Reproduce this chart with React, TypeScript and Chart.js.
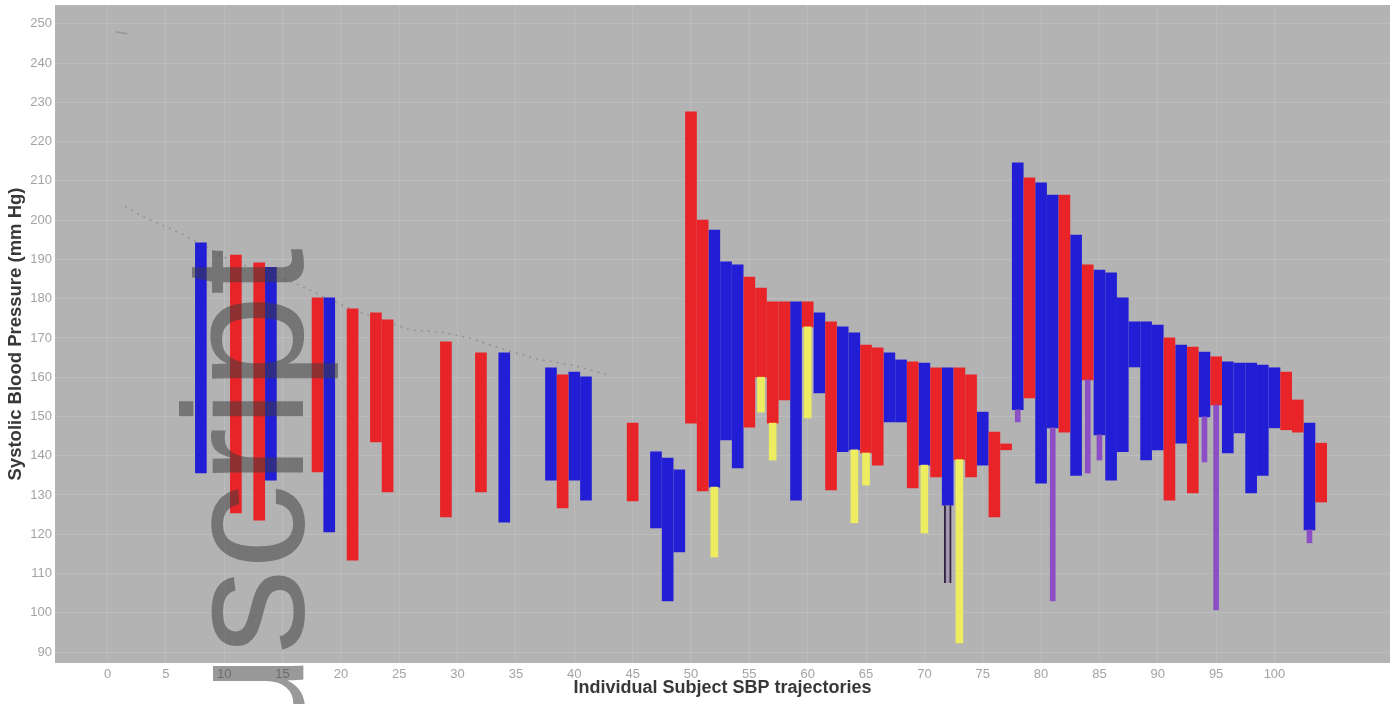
import React, { useEffect, useRef } from "react";
import { Chart, registerables } from "chart.js";

Chart.register(...registerables);

// ---- Data ----
const xTicks = [0, 5, 10, 15, 20, 25, 30, 35, 40, 45, 50, 55, 60, 65, 70, 75, 80, 85, 90, 95, 100];
const yTicks = [90, 100, 110, 120, 130, 140, 150, 160, 170, 180, 190, 200, 210, 220, 230, 240, 250];

const redSubjects = [11, 13, 18, 21, 23, 24, 29, 32, 39, 45, 50, 51, 55, 56, 57, 58, 60, 62, 65, 66, 69, 71, 73, 74, 76, 77, 79, 82, 84, 91, 93, 95, 101, 102, 104];
const redLow = [125.4, 123.6, 135.9, 113.4, 143.5, 130.8, 124.4, 130.8, 126.7, 128.5, 148.3, 131.0, 147.3, 160.0, 148.3, 154.2, 172.8, 131.3, 140.7, 137.6, 131.8, 134.6, 139.0, 134.6, 124.4, 141.5, 154.7, 146.0, 159.3, 128.7, 130.5, 152.9, 146.6, 146.0, 128.2];
const redHigh = [191.1, 189.1, 180.2, 177.4, 176.4, 174.6, 169.0, 166.2, 160.6, 148.3, 227.6, 200.0, 185.5, 182.7, 179.2, 179.2, 179.2, 174.1, 168.2, 167.5, 163.9, 162.4, 162.4, 160.6, 146.0, 143.0, 210.8, 206.4, 188.6, 170.0, 167.7, 165.2, 161.3, 154.2, 143.2];

const blueSubjects = [8, 14, 19, 34, 38, 40, 41, 47, 48, 49, 52, 53, 54, 59, 61, 63, 64, 67, 68, 70, 72, 75, 78, 80, 81, 83, 85, 86, 87, 88, 89, 90, 92, 94, 96, 97, 98, 99, 100, 103];
const blueLow = [135.6, 133.8, 120.6, 123.1, 133.8, 133.8, 128.7, 121.6, 103.0, 115.5, 132.0, 144.0, 136.9, 128.7, 156.0, 141.0, 141.5, 148.6, 148.6, 137.6, 127.4, 137.6, 151.7, 133.0, 147.1, 135.0, 145.3, 133.8, 141.0, 162.6, 138.9, 141.5, 143.2, 149.9, 140.7, 145.8, 130.5, 135.0, 147.1, 121.1];
const blueHigh = [194.2, 188.0, 180.2, 166.2, 162.4, 161.3, 160.1, 141.0, 139.4, 136.4, 197.5, 189.4, 188.6, 179.2, 176.4, 172.8, 171.3, 166.2, 164.4, 163.6, 162.4, 151.1, 214.6, 209.5, 206.4, 196.2, 187.3, 186.6, 180.2, 174.1, 174.1, 173.3, 168.2, 166.4, 163.9, 163.6, 163.6, 163.1, 162.4, 148.3];

const yellowSubjects = [52, 56, 57, 60, 64, 65, 70, 73];
const yellowLow = [114.2, 151.1, 138.9, 149.6, 122.9, 132.5, 120.3, 92.3];
const yellowHigh = [132.0, 160.0, 148.3, 172.8, 141.5, 140.7, 137.6, 139.0];

const purpleSubjects = [78, 81, 84, 85, 94, 95, 103];
const purpleLow = [148.6, 103.0, 135.6, 138.9, 138.4, 100.7, 117.8];
const purpleHigh = [151.7, 147.1, 159.3, 145.3, 149.9, 152.9, 121.1];

const darkSubjects = [72];
const darkLow = [107.6];
const darkHigh = [127.4];

const trendX = [1.5, 3.0, 4.5, 6.0, 8.0, 10.0, 13.0, 16.0, 20.0, 23.0, 26.0, 28.5, 31.0, 34.0, 37.0, 40.0, 43.0];
const trendY = [203.5, 201.0, 199.0, 197.0, 194.0, 190.5, 187.0, 184.0, 178.5, 175.0, 172.0, 171.5, 170.0, 167.0, 164.5, 163.0, 160.5];
const topMarkX = [0.7, 1.7];
const topMarkY = [248.0, 247.5];

const X_MIN = -4.5;
const X_MAX = 109.9;
const Y_MIN = 87.2;
const Y_MAX = 254.8;

function toRange(subjects: number[], low: number[], high: number[]) {
  return subjects.map((s, i) => ({ x: s, y: [low[i], high[i]] }));
}
function toPoints(xs: number[], ys: number[]) {
  return xs.map((x, i) => ({ x, y: ys[i] }));
}

const backgroundPlugin = {
  id: "plotBackground",
  beforeDraw(chart: any) {
    const { ctx, chartArea } = chart;
    if (!chartArea) return;
    ctx.save();
    ctx.fillStyle = "#b3b3b3";
    ctx.fillRect(chartArea.left, chartArea.top, chartArea.right - chartArea.left, chartArea.bottom - chartArea.top);
    ctx.restore();
  },
};

const watermarkPlugin = {
  id: "watermark",
  afterDraw(chart: any) {
    const { ctx } = chart;
    ctx.save();
    ctx.translate(303, 248);
    ctx.rotate(-Math.PI / 2);
    ctx.font = '170px "Liberation Sans", Arial, sans-serif';
    ctx.textAlign = "right";
    ctx.textBaseline = "alphabetic";
    ctx.fillStyle = "rgba(60,60,60,0.52)";
    ctx.fillText("Manuscript", 0, 0);
    ctx.restore();
  },
};

export default function App() {
  const canvasRef = useRef<HTMLCanvasElement | null>(null);

  useEffect(() => {
    document.body.style.margin = "0";
    const canvas = canvasRef.current;
    if (!canvas) return;

    const chart = new Chart(canvas, {
      type: "bar",
      data: {
        datasets: [
          {
            label: "dark",
            data: toRange(darkSubjects, darkLow, darkHigh) as any,
            backgroundColor: "rgba(140,110,170,0.35)",
            borderColor: "#2e2540",
            borderWidth: { left: 1.5, right: 1.5, top: 0, bottom: 0 } as any,
            borderSkipped: false,
            barThickness: 7,
            order: 0,
          },
          {
            label: "yellow",
            data: toRange(yellowSubjects, yellowLow, yellowHigh) as any,
            backgroundColor: "rgb(238,236,96)",
            barThickness: 7,
            order: 0,
          },
          {
            label: "purple",
            data: toRange(purpleSubjects, purpleLow, purpleHigh) as any,
            backgroundColor: "rgb(140,78,196)",
            barThickness: 5,
            order: 0,
          },
          {
            label: "red",
            data: toRange(redSubjects, redLow, redHigh) as any,
            backgroundColor: "rgb(232,36,40)",
            barThickness: 11,
            order: 1,
          },
          {
            label: "blue",
            data: toRange(blueSubjects, blueLow, blueHigh) as any,
            backgroundColor: "rgb(34,30,214)",
            barThickness: 11,
            order: 1,
          },
          {
            type: "line" as any,
            label: "trend",
            data: toPoints(trendX, trendY) as any,
            borderColor: "rgba(125,125,125,0.6)",
            borderWidth: 1.5,
            borderDash: [2, 5],
            pointRadius: 0,
            fill: false,
            order: 5,
          } as any,
          {
            type: "line" as any,
            label: "topmark",
            data: toPoints(topMarkX, topMarkY) as any,
            borderColor: "rgba(125,125,125,0.5)",
            borderWidth: 1.5,
            pointRadius: 0,
            fill: false,
            order: 5,
          } as any,
        ],
      },
      options: {
        animation: false,
        responsive: false,
        maintainAspectRatio: false,
        devicePixelRatio: 1,
        layout: { padding: { top: 5, right: 9, left: 0, bottom: 0 } },
        datasets: { bar: { grouped: false } as any },
        plugins: {
          legend: { display: false },
          tooltip: { enabled: false },
        },
        scales: {
          x: {
            type: "linear",
            min: X_MIN,
            max: X_MAX,
            offset: false,
            afterBuildTicks: (scale: any) => {
              scale.ticks = xTicks.map((v) => ({ value: v }));
            },
            afterFit: (scale: any) => {
              scale.height = 41;
              scale.paddingLeft = 0;
              scale.paddingRight = 0;
            },
            grid: {
              offset: false,
              color: "rgba(255,255,255,0.13)",
              drawTicks: false,
            },
            border: { display: false },
            ticks: {
              color: "#a3a3a3",
              font: { family: '"Liberation Sans", Arial, sans-serif', size: 13 },
              padding: 4,
              maxRotation: 0,
              autoSkip: false,
            },
            title: {
              display: true,
              text: "Individual Subject SBP trajectories",
              color: "#383838",
              font: { family: '"Liberation Sans", Arial, sans-serif', size: 18, weight: "bold" },
              padding: { top: 0, bottom: 5 },
            },
          },
          y: {
            type: "linear",
            min: Y_MIN,
            max: Y_MAX,
            afterBuildTicks: (scale: any) => {
              scale.ticks = yTicks.map((v) => ({ value: v }));
            },
            afterFit: (scale: any) => {
              scale.width = 55;
              scale.paddingTop = 0;
              scale.paddingBottom = 0;
            },
            grid: {
              color: "rgba(255,255,255,0.13)",
              drawTicks: false,
            },
            border: { display: false },
            ticks: {
              color: "#a3a3a3",
              font: { family: '"Liberation Sans", Arial, sans-serif', size: 13 },
              padding: 3,
              autoSkip: false,
            },
            title: {
              display: true,
              text: "Systolic Blood Pressure (mm Hg)",
              color: "#383838",
              font: { family: '"Liberation Sans", Arial, sans-serif', size: 18.5, weight: "bold" },
              padding: { top: 5, bottom: 0 },
            },
          },
        },
      },
      plugins: [backgroundPlugin, watermarkPlugin],
    });

    return () => {
      chart.destroy();
    };
  }, []);

  return (
    <div style={{ width: 1399, height: 704, position: "relative" }}>
      <canvas ref={canvasRef} width={1399} height={704} style={{ display: "block", width: 1399, height: 704 }} />
    </div>
  );
}
